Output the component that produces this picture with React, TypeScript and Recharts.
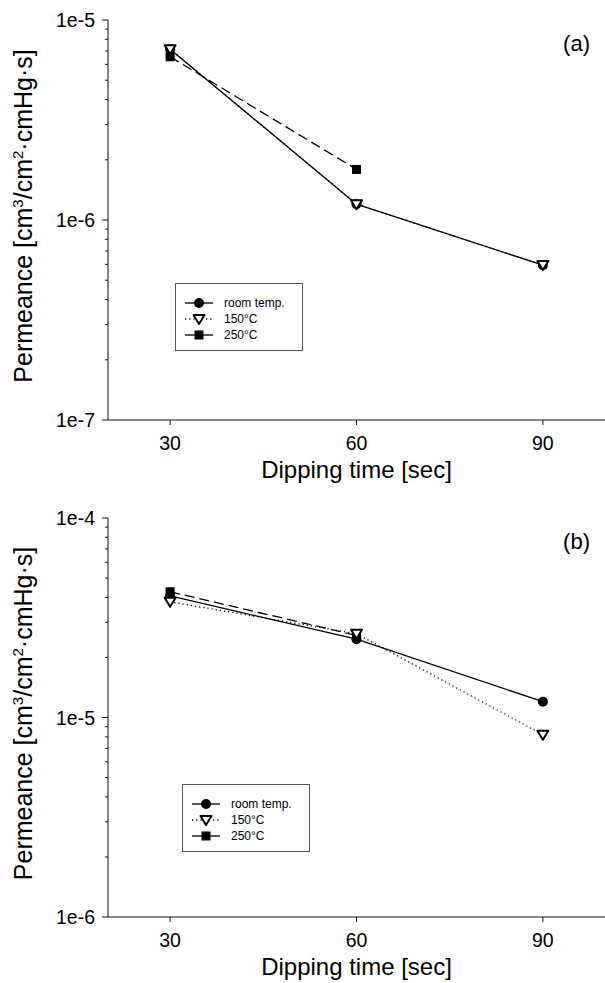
import React from "react";
import { LineChart, Line, XAxis, YAxis, Legend, Customized } from "recharts";

// dipping time (sec)
const dippingTimes = [30, 60, 90];
const xTicks = [30, 60, 90];

// panel (a)
const roomTempA = [7.15e-6, 1.2e-6, 5.95e-7];
const deg150A = [7.15e-6, 1.2e-6, 5.95e-7];
const deg250A = [6.55e-6, 1.79e-6, null];
const decadesA = [1e-7, 1e-6, 1e-5];
const decadeLabelsA = ["1e-7", "1e-6", "1e-5"];

// panel (b)
const roomTempB = [4.07e-5, 2.47e-5, 1.2e-5];
const deg150B = [3.8e-5, 2.63e-5, 8.2e-6];
const deg250B = [4.27e-5, 2.58e-5, null];
const decadesB = [1e-6, 1e-5, 1e-4];
const decadeLabelsB = ["1e-6", "1e-5", "1e-4"];

const minorSteps = [2, 3, 4, 5, 6, 7, 8, 9];

const seriesNames = ["room temp.", "150°C", "250°C"];

const FONT = '"Liberation Sans", Arial, sans-serif';
const INK = "#111";
const W = 605;
const Y_TICK = 6;
const Y_MARGIN = 7;

type Shape = "circle" | "triangle" | "square";

const series: { key: string; name: string; shape: Shape; dash?: string; legendDash?: string }[] = [
  { key: "room", name: seriesNames[0], shape: "circle" },
  { key: "d250", name: seriesNames[2], shape: "square", dash: "10 5" },
  { key: "d150", name: seriesNames[1], shape: "triangle", dash: "1.2 3", legendDash: "1.2 3" },
];
const legendOrder = ["room", "d150", "d250"];

function marker(shape: Shape, cx: number, cy: number, key?: React.Key) {
  if (shape === "circle") return <circle key={key} cx={cx} cy={cy} r={5} fill="#000" />;
  if (shape === "square")
    return <rect key={key} x={cx - 4.5} y={cy - 4.5} width={9} height={9} fill="#000" />;
  return (
    <path
      key={key}
      d={`M${cx - 5.5},${cy - 4} L${cx + 5.5},${cy - 4} L${cx},${cy + 5} Z`}
      fill="#fff"
      stroke="#000"
      strokeWidth={2}
      strokeLinejoin="round"
    />
  );
}

const dotFor = (shape: Shape) => (p: any) => {
  if (p.cy == null || p.value == null) return <g key={p.index} />;
  return marker(shape, p.cx, p.cy, p.index);
};

function LegendBox() {
  return (
    <div
      style={{
        border: "1px solid #555",
        background: "#fff",
        padding: "11px 0 7px",
        fontFamily: FONT,
        fontSize: 12,
        color: "#000",
        width: 128,
        boxSizing: "border-box",
      }}
    >
      {legendOrder.map((k) => {
        const s = series.find((x) => x.key === k)!;
        return (
          <div key={k} style={{ display: "flex", alignItems: "center", height: 16 }}>
            <svg width={48} height={16} style={{ display: "block" }}>
              <line x1={9} x2={37} y1={8} y2={8} stroke="#000" strokeWidth={1.3} strokeDasharray={s.legendDash} />
              {marker(s.shape, 23, 8)}
            </svg>
            <span>{s.name}</span>
          </div>
        );
      })}
    </div>
  );
}

function YTick(props: any) {
  const { x, y, payload, majors, labels } = props;
  const ax = x + Y_TICK + Y_MARGIN;
  const i = majors.indexOf(payload.value);
  if (i < 0) return <line x1={ax - 3} x2={ax} y1={y} y2={y} stroke={INK} />;
  return (
    <g>
      <line x1={ax - Y_TICK} x2={ax} y1={y} y2={y} stroke={INK} />
      <text x={x} y={y} dy="0.36em" textAnchor="end" fontFamily={FONT} fontSize={19.5} fill="#000">
        {labels[i]}
      </text>
    </g>
  );
}

function YTitle({ viewBox }: any) {
  const cx = viewBox.x + 32;
  const cy = viewBox.y + viewBox.height / 2 - 4;
  return (
    <text
      x={cx}
      y={cy}
      transform={`rotate(-90 ${cx} ${cy})`}
      textAnchor="middle"
      fontFamily={FONT}
      fontSize={25}
      fill="#000"
    >
      Permeance [cm<tspan fontSize={15} dy={-9}>3</tspan>
      <tspan dy={9}>/cm</tspan>
      <tspan fontSize={15} dy={-9}>2</tspan>
      <tspan dy={9}>·cmHg·s]</tspan>
    </text>
  );
}

function XTitle({ viewBox }: any) {
  return (
    <text
      x={viewBox.x + viewBox.width / 2}
      y={viewBox.y + 58}
      textAnchor="middle"
      fontFamily={FONT}
      fontSize={24}
      fill="#000"
    >
      Dipping time [sec]
    </text>
  );
}

type PanelProps = {
  room: (number | null)[];
  d150: (number | null)[];
  d250: (number | null)[];
  majors: number[];
  labels: string[];
  tag: string;
  top: number;
  height: number;
  marginTop: number;
  marginBottom: number;
  legendLeft: number;
  legendTop: number;
};

function Panel(p: PanelProps) {
  const data = dippingTimes.map((t, i) => ({ t, room: p.room[i], d150: p.d150[i], d250: p.d250[i] }));
  const minors = p.majors.slice(0, -1).flatMap((d) => minorSteps.map((m) => d * m));
  const ticks = [...p.majors, ...minors];
  return (
    <div style={{ position: "absolute", left: 0, top: p.top }}>
      <LineChart
        width={W}
        height={p.height}
        data={data}
        margin={{ top: p.marginTop, right: 0, bottom: p.marginBottom, left: 0 }}
      >
        <XAxis
          xAxisId="top"
          orientation="top"
          type="number"
          dataKey="t"
          domain={[20, 100]}
          height={0}
          tick={false}
          tickLine={false}
          axisLine={{ stroke: INK }}
        />
        <XAxis
          dataKey="t"
          type="number"
          domain={[20, 100]}
          ticks={xTicks}
          height={66}
          tickSize={5}
          tickMargin={11}
          axisLine={{ stroke: INK }}
          tickLine={{ stroke: INK }}
          tick={{ fontFamily: FONT, fontSize: 19.5, fill: "#000" }}
          label={{ content: XTitle }}
        />
        <YAxis
          type="number"
          scale="log"
          domain={[p.majors[0], p.majors[p.majors.length - 1]]}
          allowDataOverflow
          ticks={ticks}
          interval={0}
          width={108}
          tickSize={Y_TICK}
          tickMargin={Y_MARGIN}
          tickLine={false}
          axisLine={{ stroke: INK }}
          tickFormatter={(v: number) => {
            const i = p.majors.indexOf(v);
            return i < 0 ? "" : p.labels[i];
          }}
          tick={<YTick majors={p.majors} labels={p.labels} />}
          label={{ content: YTitle }}
        />
        {series.map((s) => (
          <Line
            key={s.key}
            dataKey={s.key}
            name={s.name}
            stroke="#000"
            strokeWidth={1.3}
            strokeDasharray={s.dash}
            dot={dotFor(s.shape)}
            activeDot={false}
            isAnimationActive={false}
          />
        ))}
        <Legend
          layout="vertical"
          align="center"
          verticalAlign="middle"
          content={() => <LegendBox />}
          wrapperStyle={{ left: p.legendLeft, top: p.legendTop, width: 128, height: 68 }}
        />
        <Customized
          component={() => (
            <text x={590} y={p.marginTop + 31} textAnchor="end" fontFamily={FONT} fontSize={22} fill="#000">
              {p.tag}
            </text>
          )}
        />
      </LineChart>
    </div>
  );
}

export default function App() {
  return (
    <div style={{ position: "absolute", left: 0, top: 0, width: W, height: 983, background: "#fff" }}>
      <Panel
        room={roomTempA}
        d150={deg150A}
        d250={deg250A}
        majors={decadesA}
        labels={decadeLabelsA}
        tag="(a)"
        top={0}
        height={490}
        marginTop={20}
        marginBottom={4}
        legendLeft={175}
        legendTop={283}
      />
      <Panel
        room={roomTempB}
        d150={deg150B}
        d250={deg250B}
        majors={decadesB}
        labels={decadeLabelsB}
        tag="(b)"
        top={490}
        height={493}
        marginTop={28}
        marginBottom={0}
        legendLeft={182}
        legendTop={294}
      />
    </div>
  );
}
